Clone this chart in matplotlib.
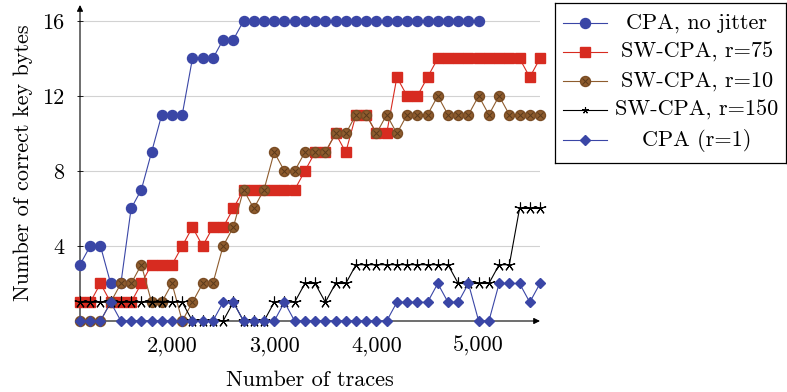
"""
plot.py
=======

Number of correct key bytes recovered vs. number of traces, for plain CPA
and sliding-window CPA at several window radii.
"""

import matplotlib

matplotlib.use("Agg")
import matplotlib.pyplot as plt
from matplotlib.ticker import FuncFormatter

plt.rcParams["font.family"] = "cmr10"
plt.rcParams["mathtext.fontset"] = "cm"
plt.rcParams["axes.unicode_minus"] = False
plt.rcParams["font.size"] = 16

# ----------------------------------------------------------------------
# Data (one point every 100 traces)
# ----------------------------------------------------------------------
TRACES = list(range(1100, 5700, 100))          # 1100 .. 5600
TRACES_NO_JITTER = list(range(1100, 5100, 100))  # 1100 .. 5000

cpa_no_jitter = [3, 4, 4, 2, 2, 6, 7, 9, 11, 11, 11, 14, 14, 14, 15, 15] + [16] * 24
sw_cpa_r75 = [1, 1, 2, 1, 1, 1, 2, 3, 3, 3, 4, 5, 4, 5, 5, 6, 7, 7, 7, 7, 7, 7,
              8, 9, 9, 10, 9, 11, 11, 10, 10, 13, 12, 12, 13,
              14, 14, 14, 14, 14, 14, 14, 14, 14, 13, 14]
sw_cpa_r10 = [0, 0, 0, 1, 2, 2, 3, 1, 1, 2, 0, 1, 2, 2, 4, 5, 7, 6, 7, 9, 8, 8,
              9, 9, 9, 10, 10, 11, 11, 10, 11, 10, 11, 11, 11, 12, 11, 11, 11,
              12, 11, 12, 11, 11, 11, 11]
sw_cpa_r150 = [1, 1, 1, 1, 1, 1, 1, 1, 1, 1, 1, 0, 0, 0, 0, 1, 0, 0, 0, 1, 1, 1,
               2, 2, 1, 2, 2, 3, 3, 3, 3, 3, 3, 3, 3, 3, 3, 2, 2, 2, 2, 3, 3,
               6, 6, 6]
cpa_r1 = [0, 0, 0, 1, 0, 0, 0, 0, 0, 0, 0, 0, 0, 0, 1, 1, 0, 0, 0, 0, 1, 0,
          0, 0, 0, 0, 0, 0, 0, 0, 0, 1, 1, 1, 1, 2, 1, 1, 2, 0, 0, 2, 2, 2,
          1, 2]

LABELS = ["CPA, no jitter", "SW-CPA, r=75", "SW-CPA, r=10", "SW-CPA, r=150", "CPA (r=1)"]
Y_TICKS = [4, 8, 12, 16]
X_TICKS = [2000, 3000, 4000, 5000]

BLUE = "#3a46a6"
RED = "#d72b20"
BROWN = "#8e5c2e"
STAR = (5, 2, 0)

STYLES = [
    dict(color=BLUE, lw=0.8, marker="o", ms=7.2, mfc=BLUE, mec=BLUE),
    dict(color=RED, lw=0.8, marker="s", ms=7.0, mfc=RED, mec=RED),
    dict(color=BROWN, lw=0.8, marker="o", ms=7.2, mfc=BROWN, mec="#7a4c24"),
    dict(color="black", lw=0.8, marker=STAR, ms=8.5, mew=0.8),
    dict(color=BLUE, lw=0.8, marker="D", ms=5.2, mfc=BLUE, mec=BLUE),
]
CROSS = dict(ls="none", marker="x", ms=5.0, mew=0.7, color="#5a3a1c")


def draw_series(ax, xs, ys, i):
    ax.plot(xs, ys, clip_on=False, zorder=3 + i, **STYLES[i])
    if i == 2:
        ax.plot(xs, ys, clip_on=False, zorder=3 + i, **CROSS)


fig = plt.figure(figsize=(7.87, 3.92), dpi=100)
ax = fig.add_axes([80 / 787, 1 - 321 / 392, 460 / 787, 316 / 392])

series = [
    (TRACES_NO_JITTER, cpa_no_jitter),
    (TRACES, sw_cpa_r75),
    (TRACES, sw_cpa_r10),
    (TRACES, sw_cpa_r150),
    (TRACES, cpa_r1),
]
for i, (xs, ys) in enumerate(series):
    draw_series(ax, xs, ys, i)

ax.set_xlim(1100, 5600)
ax.set_ylim(0, 16.85)
ax.set_xticks(X_TICKS)
ax.set_yticks(Y_TICKS)
ax.xaxis.set_major_formatter(FuncFormatter(lambda v, _: f"{v:,.0f}"))
ax.tick_params(direction="inout", length=4, width=0.6, pad=9)
ax.grid(axis="y", color="#d2d2d2", lw=0.8)
ax.set_axisbelow(True)

for side in ["top", "right", "left", "bottom"]:
    ax.spines[side].set_visible(False)
arrow = dict(arrowstyle="-|>", color="black", lw=0.8, mutation_scale=9,
             shrinkA=0, shrinkB=0)
ax.annotate("", xy=(1.0, 0), xytext=(0, 0), xycoords="axes fraction",
            arrowprops=arrow, zorder=2)
ax.annotate("", xy=(0, 1.0), xytext=(0, 0), xycoords="axes fraction",
            arrowprops=arrow, zorder=2)

ax.set_xlabel("Number of traces", labelpad=10)
ax.set_ylabel("Number of correct key bytes", labelpad=7)

# Legend drawn by hand so the entry texts can be centred like pgfplots does.
lax = fig.add_axes([555 / 787, 1 - 163 / 392, 231 / 787, 160 / 392])
lax.set_xlim(555, 786)
lax.set_ylim(163, 3)
lax.set_xticks([])
lax.set_yticks([])
for sp in lax.spines.values():
    sp.set_linewidth(0.9)
row_y = [23, 52, 81, 110, 140]
for i, (label, y) in enumerate(zip(LABELS, row_y)):
    st = dict(STYLES[i])
    lax.plot([563, 607], [y, y], color=st["color"], lw=st["lw"])
    st["ms"] = st["ms"] * (0.55 if i == 3 else 1.0)
    lax.plot([585], [y], ls="none", **{k: v for k, v in st.items() if k not in ("lw",)})
    if i == 2:
        lax.plot([585], [y], **CROSS)
    lax.text(697, y, label, ha="center", va="center")

fig.savefig("out.png", dpi=100)
